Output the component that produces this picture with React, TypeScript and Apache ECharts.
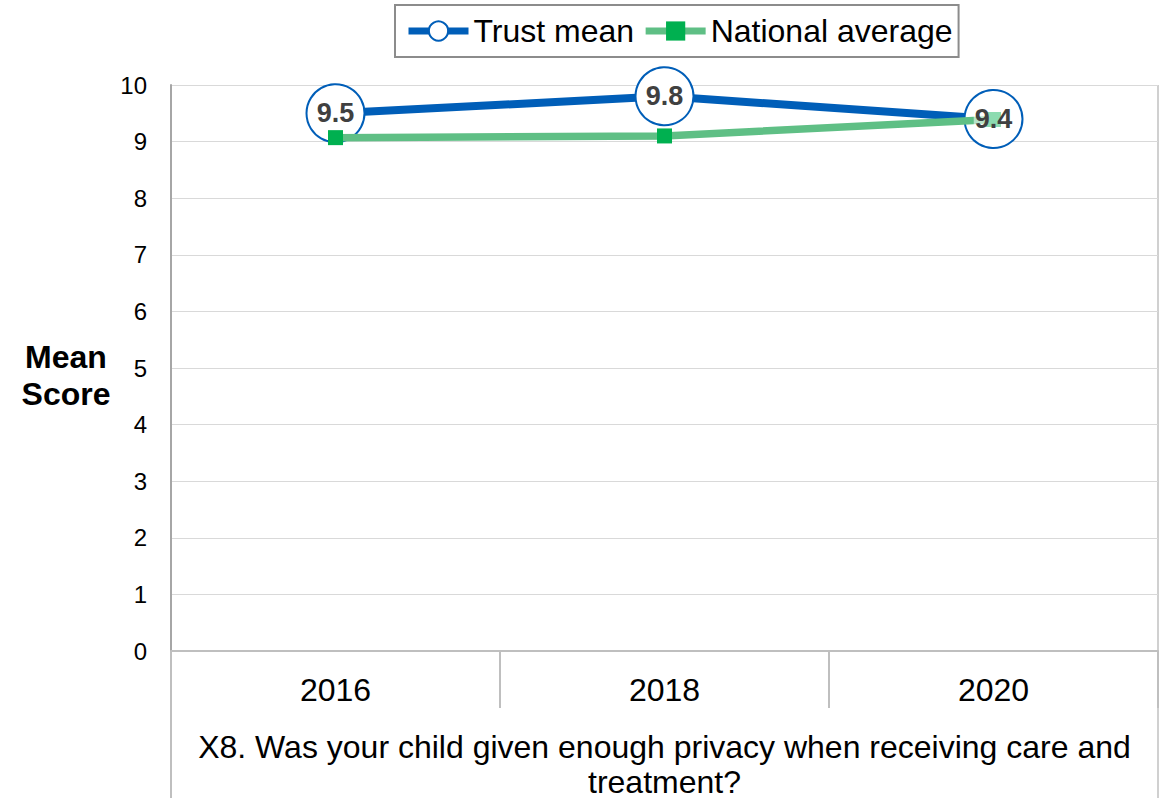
import React, { useEffect, useRef } from "react";
import * as echarts from "echarts";

const categories = ["2016", "2018", "2020"];
const trustMean = [9.5, 9.8, 9.4];
const nationalAverage = [9.07, 9.1, 9.39];
const yTicks = { min: 0, max: 10, interval: 1 };
const question = "X8. Was your child given enough privacy when receiving care and\ntreatment?";

const FONT = "Liberation Sans, Arial, sans-serif";

export default function App() {
  const ref = useRef<HTMLDivElement>(null);
  useEffect(() => {
    const chart = echarts.init(ref.current!, null, { renderer: "svg" });
    chart.setOption({
      animation: false,
      textStyle: { fontFamily: FONT },
      legend: {
        top: 5,
        left: 395,
        itemWidth: 60,
        itemHeight: 24,
        itemGap: 8,
        padding: [10, 6, 10, 10],
        borderColor: "#8c8c8c",
        borderWidth: 2,
        lineStyle: { width: 7 },
        textStyle: { fontSize: 32, color: "#000", fontFamily: FONT },
        data: [
          { name: "Trust mean", itemStyle: { color: "#fff", borderColor: "#005EB8", borderWidth: 2 } },
          { name: "National average", itemStyle: { color: "#00B050" } },
        ],
      },
      grid: { left: 171, right: 2, top: 85, bottom: 147, outerBoundsMode: "none", containLabel: false },
      xAxis: {
        type: "category",
        data: categories,
        boundaryGap: true,
        axisLine: { lineStyle: { color: "#bfbfbf", width: 2 } },
        axisTick: { show: true, length: 57, interval: 0, lineStyle: { color: "#bfbfbf", width: 2 } },
        axisLabel: { fontSize: 32, color: "#000", margin: 23, fontFamily: FONT },
        name: question,
        nameLocation: "middle",
        nameGap: 78,
        nameTextStyle: { fontSize: 32, color: "#000", lineHeight: 35, fontFamily: FONT },
      },
      yAxis: {
        type: "value",
        min: yTicks.min,
        max: yTicks.max,
        interval: yTicks.interval,
        axisLine: { show: true, lineStyle: { color: "#a6a6a6", width: 2 } },
        axisTick: { show: false },
        axisLabel: { fontSize: 24, color: "#000", margin: 24, fontFamily: FONT },
        splitLine: { lineStyle: { color: "#d9d9d9", width: 1 } },
      },
      graphic: [
        { type: "line", shape: { x1: 171, y1: 651, x2: 171, y2: 798 }, style: { stroke: "#bfbfbf", lineWidth: 2 } },
        { type: "line", shape: { x1: 1158, y1: 85, x2: 1158, y2: 798 }, style: { stroke: "#d0d0d0", lineWidth: 2 } },
        {
          type: "text",
          x: 66,
          y: 338,
          style: { text: "Mean\nScore", fontSize: 32, fontWeight: "bold", fill: "#000", align: "center", verticalAlign: "top", lineHeight: 37, fontFamily: FONT },
        },
      ],
      series: [
        {
          name: "Trust mean",
          type: "line",
          data: trustMean,
          symbol: "circle",
          symbolSize: 58,
          lineStyle: { color: "#005EB8", width: 8 },
          itemStyle: { color: "#fff", borderColor: "#005EB8", borderWidth: 2 },
          z: 2,
        },
        {
          name: "National average",
          type: "line",
          data: nationalAverage,
          symbol: "rect",
          symbolSize: 15,
          lineStyle: { color: "#5FBF85", width: 7.5 },
          itemStyle: { color: "#00B050" },
          z: 3,
        },
        {
          name: "Trust mean labels",
          type: "scatter",
          data: trustMean,
          symbol: "circle",
          symbolSize: 1,
          itemStyle: { color: "rgba(0,0,0,0)", opacity: 1 },
          silent: true,
          label: {
            show: true,
            position: "inside",
            fontSize: 27,
            fontWeight: "bold",
            color: "#404040",
            opacity: 1,
            fontFamily: FONT,
            backgroundColor: "rgba(255,255,255,0.55)",
            padding: [0, 1],
            formatter: (p: any) => p.value.toFixed(1),
          },
          z: 4,
        },
      ],
    });
    return () => chart.dispose();
  }, []);
  return <div ref={ref} style={{ width: 1160, height: 798, position: "absolute", left: 0, top: 0 }} />;
}
